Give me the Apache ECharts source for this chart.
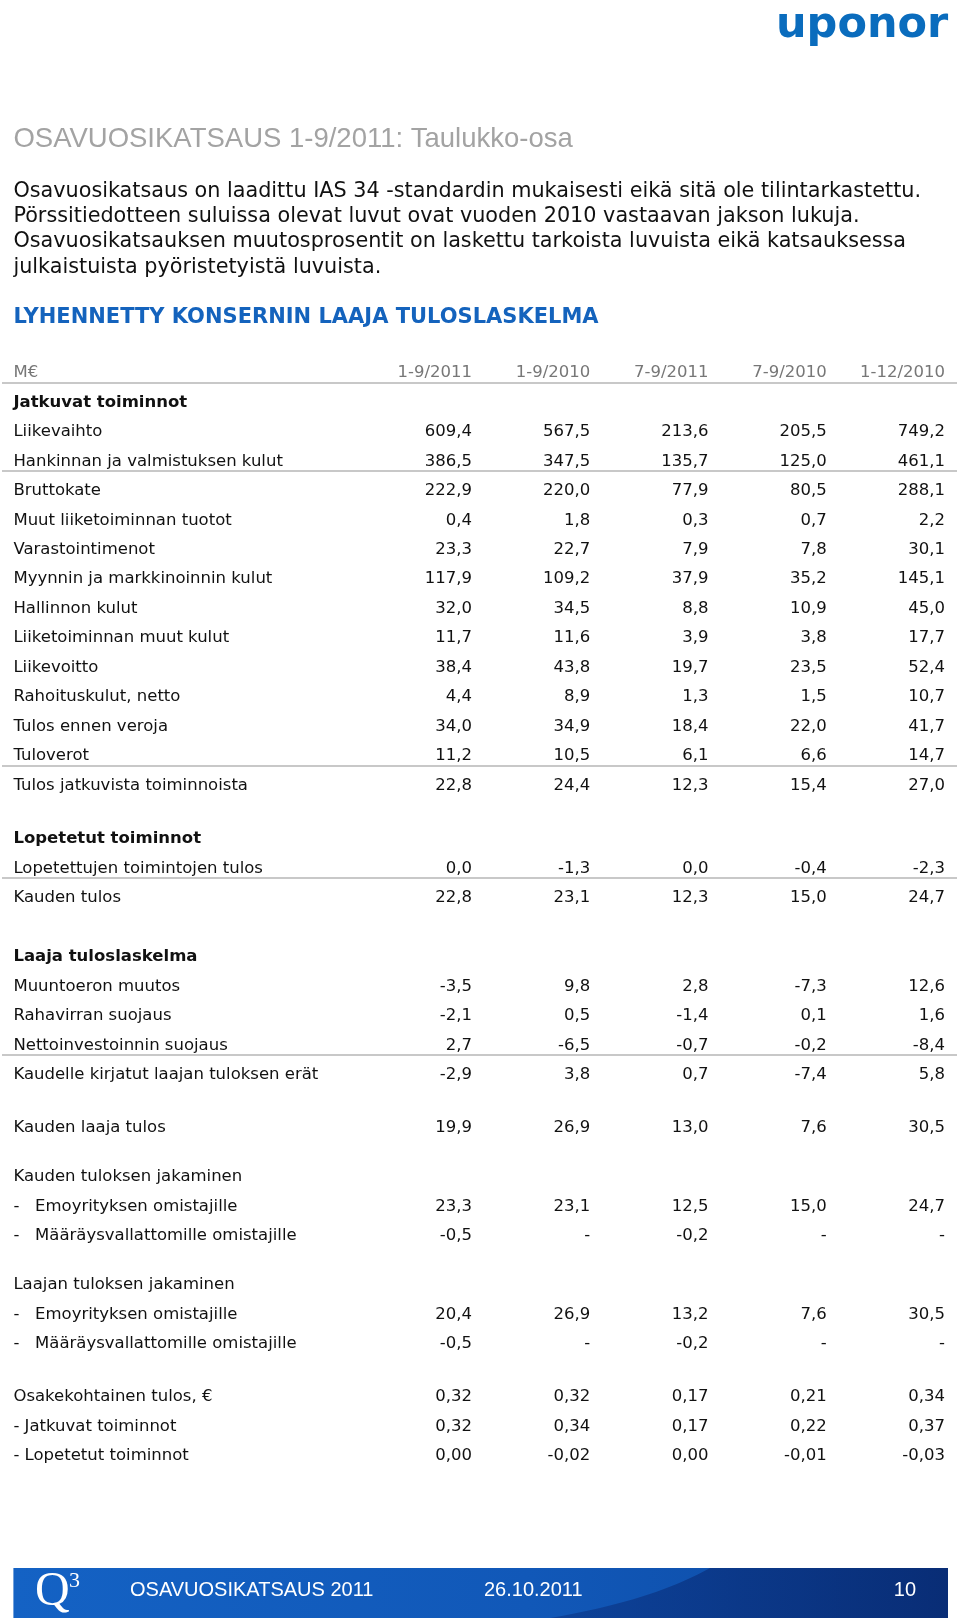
<!DOCTYPE html>
<html><head><meta charset="utf-8">
<script src="https://cdn.jsdelivr.net/npm/echarts@6/dist/echarts.min.js"></script>
<style>html,body{margin:0;padding:0;background:#fff}#c{width:960px;height:1621px}</style>
</head><body><div id="c"></div>
<script>
// ---------- data ----------
const periods = ['1-9/2011', '1-9/2010', '7-9/2011', '7-9/2010', '1-12/2010'];
const unitLabel = 'M€';

const contRows = ['Jatkuvat toiminnot', 'Liikevaihto', 'Hankinnan ja valmistuksen kulut', 'Bruttokate',
  'Muut liiketoiminnan tuotot', 'Varastointimenot', 'Myynnin ja markkinoinnin kulut', 'Hallinnon kulut',
  'Liiketoiminnan muut kulut', 'Liikevoitto', 'Rahoituskulut, netto', 'Tulos ennen veroja', 'Tuloverot',
  'Tulos jatkuvista toiminnoista'];
const contValues = [null,
  [609.4, 567.5, 213.6, 205.5, 749.2],
  [386.5, 347.5, 135.7, 125.0, 461.1],
  [222.9, 220.0, 77.9, 80.5, 288.1],
  [0.4, 1.8, 0.3, 0.7, 2.2],
  [23.3, 22.7, 7.9, 7.8, 30.1],
  [117.9, 109.2, 37.9, 35.2, 145.1],
  [32.0, 34.5, 8.8, 10.9, 45.0],
  [11.7, 11.6, 3.9, 3.8, 17.7],
  [38.4, 43.8, 19.7, 23.5, 52.4],
  [4.4, 8.9, 1.3, 1.5, 10.7],
  [34.0, 34.9, 18.4, 22.0, 41.7],
  [11.2, 10.5, 6.1, 6.6, 14.7],
  [22.8, 24.4, 12.3, 15.4, 27.0]];

const discRows = ['Lopetetut toiminnot', 'Lopetettujen toimintojen tulos', 'Kauden tulos'];
const discValues = [null,
  [0.0, -1.3, 0.0, -0.4, -2.3],
  [22.8, 23.1, 12.3, 15.0, 24.7]];

const compRows = ['Laaja tuloslaskelma', 'Muuntoeron muutos', 'Rahavirran suojaus', 'Nettoinvestoinnin suojaus',
  'Kaudelle kirjatut laajan tuloksen erät'];
const compValues = [null,
  [-3.5, 9.8, 2.8, -7.3, 12.6],
  [-2.1, 0.5, -1.4, 0.1, 1.6],
  [2.7, -6.5, -0.7, -0.2, -8.4],
  [-2.9, 3.8, 0.7, -7.4, 5.8]];

const totalRows = ['Kauden laaja tulos'];
const totalValues = [[19.9, 26.9, 13.0, 7.6, 30.5]];

const profitAllocRows = ['Kauden tuloksen jakaminen', '-   Emoyrityksen omistajille', '-   Määräysvallattomille omistajille'];
const profitAllocValues = [null,
  [23.3, 23.1, 12.5, 15.0, 24.7],
  [-0.5, null, -0.2, null, null]];

const compAllocRows = ['Laajan tuloksen jakaminen', '-   Emoyrityksen omistajille', '-   Määräysvallattomille omistajille'];
const compAllocValues = [null,
  [20.4, 26.9, 13.2, 7.6, 30.5],
  [-0.5, null, -0.2, null, null]];

const epsRows = ['Osakekohtainen tulos, €', '- Jatkuvat toiminnot', '- Lopetetut toiminnot'];
const epsValues = [
  [0.32, 0.32, 0.17, 0.21, 0.34],
  [0.32, 0.34, 0.17, 0.22, 0.37],
  [0.00, -0.02, 0.00, -0.01, -0.03]];

const boldRows = ['Jatkuvat toiminnot', 'Lopetetut toiminnot', 'Laaja tuloslaskelma'];
const ruledRows = [unitLabel, 'Hankinnan ja valmistuksen kulut', 'Tuloverot', 'Lopetettujen toimintojen tulos', 'Nettoinvestoinnin suojaus'];

// ---------- layout ----------
const sections = [
  { rows: [unitLabel].concat(contRows), values: [null].concat(contValues), dec: 1, header: true },
  { rows: discRows, values: discValues, dec: 1 },
  { rows: compRows, values: compValues, dec: 1 },
  { rows: totalRows, values: totalValues, dec: 1 },
  { rows: profitAllocRows, values: profitAllocValues, dec: 1 },
  { rows: compAllocRows, values: compAllocValues, dec: 1 },
  { rows: epsRows, values: epsValues, dec: 2 }
];
const firstRowY = [373, 839, 957, 1128, 1177, 1285, 1397];
const SP = 29.45;
const GL = 353.75, GR = 15, LABEL_X = 13.4;
const BODY_FONT = '"DejaVu Sans", sans-serif';
const BODY_SIZE = 16.5;

function fmt(v, dec) { return v === null ? '-' : v.toFixed(dec).replace('.', ','); }

const grid = [], xAxis = [], yAxis = [], series = [];
sections.forEach((s, i) => {
  grid.push({ left: GL, right: GR, top: firstRowY[i] - SP / 2, height: s.rows.length * SP });
  xAxis.push({ type: 'value', gridIndex: i, min: 0, max: 5, show: false });
  yAxis.push({
    type: 'category', gridIndex: i, inverse: true, data: s.rows,
    axisLine: { show: false }, axisTick: { show: false }, splitLine: { show: false },
    axisLabel: {
      interval: 0, align: 'left', margin: GL - LABEL_X,
      fontFamily: BODY_FONT, fontSize: BODY_SIZE, color: '#111',
      formatter: v => boldRows.includes(v) ? '{b|' + v + '}' : (s.header && v === unitLabel ? '{h|' + v + '}' : v),
      rich: {
        b: { fontFamily: BODY_FONT, fontSize: BODY_SIZE, fontWeight: 'bold', color: '#111' },
        h: { fontFamily: BODY_FONT, fontSize: BODY_SIZE, color: '#777' }
      }
    }
  });
  const cells = [];
  s.rows.forEach((r, ri) => {
    if (s.header && ri === 0) {
      periods.forEach((p, ci) => cells.push({ value: [ci + 1, ri], t: p, h: true }));
      return;
    }
    const vals = s.values[ri];
    if (!vals) return;
    vals.forEach((v, ci) => cells.push({ value: [ci + 1, ri], t: fmt(v, s.dec) }));
  });
  series.push({
    type: 'custom', xAxisIndex: i, yAxisIndex: i, data: cells, silent: true,
    renderItem: (params, api) => {
      const c = cells[params.dataIndex];
      const p = api.coord([api.value(0), api.value(1)]);
      return {
        type: 'text', x: p[0], y: p[1],
        style: { text: c.t, align: 'right', verticalAlign: 'middle', fill: c.h ? '#777' : '#111',
          fontFamily: BODY_FONT, fontSize: BODY_SIZE }
      };
    }
  });
  const rules = [];
  s.rows.forEach((r, ri) => { if (ruledRows.includes(r)) rules.push([0, ri]); });
  if (rules.length) {
    series.push({
      type: 'custom', xAxisIndex: i, yAxisIndex: i, data: rules, silent: true,
      renderItem: (params, api) => {
        const p = api.coord([0, api.value(1)]);
        const y = Math.round(p[1] + 10);
        return { type: 'line', shape: { x1: 2, y1: y, x2: 957, y2: y }, style: { stroke: '#c8c8c8', lineWidth: 2 } };
      }
    });
  }
});

const paragraph = [
  'Osavuosikatsaus on laadittu IAS 34 -standardin mukaisesti eikä sitä ole tilintarkastettu.',
  'Pörssitiedotteen suluissa olevat luvut ovat vuoden 2010 vastaavan jakson lukuja.',
  'Osavuosikatsauksen muutosprosentit on laskettu tarkoista luvuista eikä katsauksessa',
  'julkaistuista pyöristetyistä luvuista.'
];
const paraY = [192, 217, 242, 268];

function txt(x, y, text, o) {
  return Object.assign({ type: 'text', x: x, y: y, silent: true,
    style: Object.assign({ text: text, align: 'left', verticalAlign: 'middle', textAlign: 'left', textVerticalAlign: 'middle' }, o) });
}

// decorative swoosh outline for the footer band
const swoosh = [[710, 1568], [948, 1568], [948, 1618], [550, 1618]];
for (let k = 1; k < 20; k++) {
  const t = k / 20, u = 1 - t;
  const x = u * u * u * 550 + 3 * u * u * t * 620 + 3 * u * t * t * 670 + t * t * t * 710;
  const y = u * u * u * 1618 + 3 * u * u * t * 1606 + 3 * u * t * t * 1590 + t * t * t * 1568;
  swoosh.push([x, y]);
}

const graphic = [
  txt(776, 26, 'uponor', { fontFamily: '"DejaVu Sans"', fontWeight: 'bold', fontSize: 43, fill: '#0a6cbd' }),
  txt(13.4, 139, 'OSAVUOSIKATSAUS 1-9/2011: Taulukko-osa', { fontFamily: '"Liberation Sans"', fontSize: 27.5, fill: '#a3a3a3' }),
  txt(13.4, 318, 'LYHENNETTY KONSERNIN LAAJA TULOSLASKELMA', { fontFamily: '"DejaVu Sans"', fontWeight: 'bold', fontSize: 21, fill: '#1463bd' }),
  { type: 'rect', shape: { x: 13.4, y: 1568, width: 934.6, height: 50 }, silent: true,
    style: { fill: { type: 'linear', x: 0, y: 0, x2: 1, y2: 0, colorStops: [
      { offset: 0, color: '#1462c4' }, { offset: 0.55, color: '#1158b8' }, { offset: 1, color: '#0d4aa3' }] } } },
  { type: 'polygon', silent: true, shape: { points: swoosh },
    style: { fill: { type: 'linear', x: 0, y: 0, x2: 1, y2: 0, colorStops: [
      { offset: 0, color: 'rgba(10,50,130,0.55)' }, { offset: 1, color: 'rgba(8,40,110,0.85)' }] } } },
  txt(35, 1592, 'Q', { fontFamily: '"Liberation Serif"', fontSize: 48, fill: '#fff' }),
  txt(69, 1581, '3', { fontFamily: '"Liberation Serif"', fontSize: 22, fill: '#fff' }),
  txt(130, 1590, 'OSAVUOSIKATSAUS 2011', { fontFamily: '"Liberation Sans"', fontSize: 20, fill: '#fff' }),
  txt(484, 1590, '26.10.2011', { fontFamily: '"Liberation Sans"', fontSize: 20, fill: '#fff' }),
  txt(916, 1590, '10', { fontFamily: '"Liberation Sans"', fontSize: 20, fill: '#fff', align: 'right', textAlign: 'right' })
];
paragraph.forEach((line, k) => graphic.push(txt(13.4, paraY[k], line, { fontFamily: '"DejaVu Sans"', fontSize: 20.75, fill: '#111' })));

const chart = echarts.init(document.getElementById('c'), null, { renderer: 'canvas' });
chart.setOption({ animation: false, backgroundColor: '#fff', grid, xAxis, yAxis, series, graphic });
</script></body></html>
